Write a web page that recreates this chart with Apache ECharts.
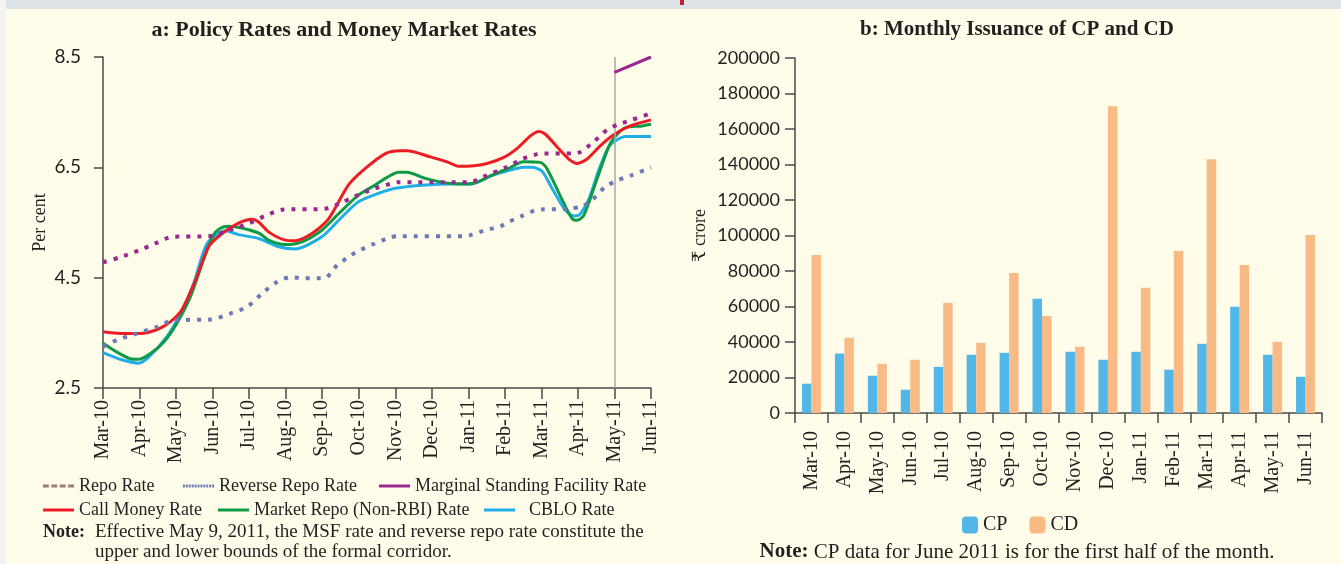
<!DOCTYPE html>
<html>
<head>
<meta charset="utf-8">
<script src="https://cdn.jsdelivr.net/npm/echarts@6/dist/echarts.min.js"></script>
<style>
  html, body { margin: 0; padding: 0; background: #fffce9; }
  #chart { width: 1341px; height: 564px; }
</style>
</head>
<body>
<div id="chart"></div>
<script>
// month labels shared by both panels
const months = ["Mar-10", "Apr-10", "May-10", "Jun-10", "Jul-10", "Aug-10", "Sep-10", "Oct-10",
  "Nov-10", "Dec-10", "Jan-11", "Feb-11", "Mar-11", "Apr-11", "May-11", "Jun-11"];

// panel a: [month index, per cent]
const repoRate = [[0, 4.78], [0.47, 4.87], [0.97, 4.99], [1.43, 5.12], [1.89, 5.24], [2.9, 5.25], [3.44, 5.36],
  [3.98, 5.48], [4.44, 5.62], [4.9, 5.73], [6.08, 5.75], [6.5, 5.85], [6.85, 5.96], [7.45, 6.12], [7.87, 6.2],
  [8.05, 6.23], [10.05, 6.23], [10.42, 6.33], [11.06, 6.51], [11.47, 6.65], [11.88, 6.74], [12.06, 6.75],
  [12.88, 6.75], [13.07, 6.78], [13.43, 6.96], [13.8, 7.18], [14.07, 7.27], [14.48, 7.36], [15, 7.48]];
const reverseRepoRate = [[0, 3.25], [0.38, 3.37], [0.84, 3.47], [1.48, 3.61], [1.93, 3.73], [2.94, 3.74],
  [3.48, 3.85], [3.94, 3.97], [4.4, 4.24], [4.76, 4.42], [5.13, 4.51], [5.49, 4.49], [5.95, 4.49], [6.13, 4.51],
  [6.4, 4.72], [6.8, 4.91], [7.04, 5.0], [7.41, 5.11], [7.86, 5.23], [8.05, 5.25], [9.87, 5.25], [10.05, 5.27],
  [10.47, 5.36], [10.88, 5.43], [11.1, 5.51], [11.47, 5.62], [11.83, 5.72], [12.06, 5.74], [12.47, 5.74],
  [12.84, 5.76], [13.11, 5.79], [13.39, 5.91], [13.75, 6.15], [14.11, 6.27], [14.48, 6.36], [15, 6.5]];
const msfRate = [[14, 8.22], [15, 8.5]];
const callMoneyRate = [[0, 3.52], [0.47, 3.49], [1.02, 3.49], [1.48, 3.56], [1.84, 3.7], [2.16, 3.92],
  [2.53, 4.45], [2.89, 5.06], [3.26, 5.3], [3.71, 5.49], [4.08, 5.56], [4.26, 5.51], [4.53, 5.33], [4.99, 5.18],
  [5.26, 5.17], [5.72, 5.3], [6.18, 5.57], [6.72, 6.18], [7.18, 6.48], [7.73, 6.75], [8.14, 6.8], [8.32, 6.8],
  [8.96, 6.69], [9.42, 6.6], [9.73, 6.52], [9.96, 6.52], [10.51, 6.57], [10.97, 6.68], [11.33, 6.84],
  [11.7, 7.07], [11.93, 7.15], [12.11, 7.1], [12.43, 6.87], [12.75, 6.65], [12.98, 6.57], [13.25, 6.65],
  [13.61, 6.89], [13.98, 7.09], [14.43, 7.25], [15, 7.36]];
const marketRepoRate = [[0, 3.31], [0.38, 3.15], [0.75, 3.03], [0.97, 3.02], [1.29, 3.12], [1.66, 3.33],
  [2.02, 3.67], [2.39, 4.15], [2.75, 4.82], [3.0, 5.25], [3.2, 5.39], [3.44, 5.43], [4.26, 5.31], [4.53, 5.18],
  [4.99, 5.1], [5.45, 5.15], [5.99, 5.36], [6.45, 5.66], [7.0, 6.0], [7.45, 6.18], [7.73, 6.3], [8.09, 6.41],
  [8.32, 6.41], [8.82, 6.3], [9.46, 6.21], [10.01, 6.2], [10.28, 6.24], [10.65, 6.36], [11.1, 6.48],
  [11.51, 6.6], [11.97, 6.59], [12.15, 6.48], [12.57, 5.91], [12.84, 5.57], [12.98, 5.54], [13.16, 5.63],
  [13.48, 6.21], [13.84, 6.87], [14.02, 7.06], [14.3, 7.22], [14.75, 7.25], [15, 7.28]];
const cbloRate = [[0, 3.14], [0.47, 3.02], [0.97, 2.95], [1.25, 3.06], [1.75, 3.43], [2.12, 3.85], [2.48, 4.39],
  [2.85, 5.12], [3.35, 5.35], [3.71, 5.28], [4.26, 5.21], [4.81, 5.06], [5.26, 5.02], [5.99, 5.24],
  [6.54, 5.6], [7.0, 5.88], [7.55, 6.03], [8.0, 6.12], [8.82, 6.18], [9.55, 6.2], [10.1, 6.2], [10.56, 6.33],
  [11.1, 6.44], [11.51, 6.5], [11.74, 6.5], [12.02, 6.43], [12.29, 6.12], [12.66, 5.72], [12.88, 5.62],
  [13.02, 5.63], [13.29, 5.91], [13.57, 6.45], [13.84, 6.87], [14.07, 7.0], [14.3, 7.06], [15, 7.06]];

// panel b: ₹ crore
const cpIssuance = [16500, 33500, 21000, 13100, 26000, 32800, 33900, 64300, 34500, 30000, 34500, 24400, 39000, 59800, 32800, 20400];
const cdIssuance = [89000, 42400, 27700, 30000, 62000, 39500, 78900, 54700, 37300, 172800, 70500, 91300, 143000, 83400, 40100, 100300];

const serif = '"Liberation Serif", "DejaVu Serif", serif';
const sans = 'Lato, "Open Sans", sans-serif';
const ink = "#231f20";
const axisCol = "#4a4a4a";

// legend icons drawn as short segments so the dashes show
const dashIcon = "path://M0,0h6v3h-6zM8.5,0h6v3h-6zM17,0h6v3h-6zM25.5,0h6v3h-6z";
const dotIcon = "path://M0,0h2v3h-2zM3,0h2v3h-2zM6,0h2v3h-2zM9,0h2v3h-2zM12,0h2v3h-2zM15,0h2v3h-2zM18,0h2v3h-2zM21,0h2v3h-2zM24,0h2v3h-2zM27,0h2v3h-2zM30,0h2v3h-2z";
const solidIcon = "path://M0,0h31v3h-31z";

function lineSeries(name, data, color, width, dash, z) {
  return {
    name: name,
    type: "line",
    xAxisIndex: 0,
    yAxisIndex: 0,
    data: data,
    symbol: "none",
    smooth: 0.25,
    z: z,
    lineStyle: { color: color, width: width, type: dash || "solid", cap: "butt" },
    itemStyle: { color: color },
  };
}

function oneLegend(name, left, top, color, icon, pad) {
  return {
    data: [{ name: name, icon: icon, itemStyle: { color: color } }],
    left: left,
    top: top,
    itemWidth: 31,
    itemHeight: 4,
    selectedMode: false,
    textStyle: { fontFamily: serif, fontSize: 18, color: ink, padding: [0, 0, 0, pad || 0] },
  };
}

const chart = echarts.init(document.getElementById("chart"));
const option = {
  animation: false,
  backgroundColor: "#fffce9",
  graphic: [
    { type: "rect", shape: { x: 0, y: 0, width: 1341, height: 9 }, style: { fill: "#dde3e7" } },
    { type: "rect", shape: { x: 0, y: 0, width: 6, height: 564 }, style: { fill: "#f4f4ef" } },
    { type: "rect", shape: { x: 680, y: 0, width: 4, height: 5 }, style: { fill: "#c0212f" } },
    { type: "text", x: 344, y: 30, style: { text: "a: Policy Rates and Money Market Rates", font: "bold 22px " + serif, fill: ink, textAlign: "center", textVerticalAlign: "middle" } },
    { type: "text", x: 1017, y: 30, style: { text: "b: Monthly Issuance of CP and CD", font: "bold 21px " + serif, fill: ink, textAlign: "center", textVerticalAlign: "middle" } },
    { type: "text", x: 43, y: 532, style: { text: "Note:", font: "bold 18px " + serif, fill: ink, textVerticalAlign: "middle" } },
    { type: "text", x: 95, y: 532, style: { text: "Effective May 9, 2011, the MSF rate and reverse repo rate constitute the", font: "19px " + serif, fill: ink, textVerticalAlign: "middle" } },
    { type: "text", x: 95, y: 552, style: { text: "upper and lower bounds of the formal corridor.", font: "19px " + serif, fill: ink, textVerticalAlign: "middle" } },
    { type: "text", x: 1017, y: 552, style: { text: "{b|Note:} CP data for June 2011 is for the first half of the month.", font: "21px " + serif, fill: ink, textAlign: "center", textVerticalAlign: "middle", rich: { b: { fontWeight: "bold", fontFamily: serif, fontSize: 21 } } } },
  ],
  legend: [
    oneLegend("Repo Rate", 38, 472, "#9e7b76", dashIcon),
    oneLegend("Reverse Repo Rate", 178, 472, "#6c7bb7", dotIcon),
    oneLegend("Marginal Standing Facility Rate", 374, 472, "#9b2790", solidIcon),
    oneLegend("Call Money Rate", 38, 496, "#ed1c24", solidIcon),
    oneLegend("Market Repo (Non-RBI) Rate", 213, 496, "#0e9a48", solidIcon),
    oneLegend("CBLO Rate", 479, 496, "#1faeea", solidIcon, 9),
    {
      data: ["CP", "CD"],
      left: 957,
      top: 510,
      itemWidth: 16,
      itemHeight: 17,
      itemGap: 22,
      selectedMode: false,
      textStyle: { fontFamily: serif, fontSize: 20, color: ink },
    },
  ],
  grid: [
    { left: 103, right: 690, top: 57, bottom: 176 },
    { left: 795, right: 19, top: 58, bottom: 151 },
  ],
  xAxis: [
    {
      type: "value",
      gridIndex: 0,
      min: 0,
      max: 15,
      interval: 1,
      axisLine: { show: true, onZero: false, lineStyle: { color: axisCol, width: 1.5 } },
      axisTick: { show: true, length: 11, lineStyle: { color: axisCol, width: 1.5 } },
      axisLabel: { rotate: 90, margin: 12, showMinLabel: true, showMaxLabel: true, fontFamily: serif, fontSize: 20, color: ink, formatter: (v) => months[v] },
      splitLine: { show: false },
    },
    {
      type: "category",
      gridIndex: 1,
      data: months,
      axisLine: { show: true, lineStyle: { color: axisCol, width: 1.5 } },
      axisTick: { show: true, length: 10, lineStyle: { color: axisCol, width: 1.5 } },
      axisLabel: { rotate: 90, margin: 18, interval: 0, fontFamily: serif, fontSize: 20, color: ink },
    },
  ],
  yAxis: [
    {
      type: "value",
      gridIndex: 0,
      min: 2.5,
      max: 8.5,
      interval: 2,
      name: "Per cent",
      nameLocation: "middle",
      nameGap: 54,
      nameTextStyle: { fontFamily: serif, fontSize: 18, color: ink },
      axisLine: { show: true, lineStyle: { color: axisCol, width: 1.5 } },
      axisTick: { show: true, length: 9, lineStyle: { color: axisCol, width: 1.5 } },
      axisLabel: { margin: 22, fontFamily: sans, fontSize: 19, color: ink, formatter: (v) => v.toFixed(1) },
      splitLine: { show: false },
    },
    {
      type: "value",
      gridIndex: 1,
      min: 0,
      max: 200000,
      interval: 20000,
      name: "₹ crore",
      nameLocation: "middle",
      nameGap: 86,
      nameTextStyle: { fontFamily: serif, fontSize: 18, color: ink },
      axisLine: { show: true, lineStyle: { color: axisCol, width: 1.5 } },
      axisTick: { show: true, length: 10, lineStyle: { color: axisCol, width: 1.5 } },
      axisLabel: { margin: 15, fontFamily: sans, fontSize: 18, color: ink, formatter: (v) => String(v) },
      splitLine: { show: false },
    },
  ],
  series: [
    lineSeries("CBLO Rate", cbloRate, "#1faeea", 3, "solid", 2),
    lineSeries("Market Repo (Non-RBI) Rate", marketRepoRate, "#0e9a48", 3, "solid", 3),
    lineSeries("Call Money Rate", callMoneyRate, "#ed1c24", 3, "solid", 4),
    lineSeries("Reverse Repo Rate", reverseRepoRate, "#6c7bb7", 4, [4, 7], 5),
    lineSeries("Repo Rate", repoRate, "#9b2790", 4, [4, 7], 5),
    Object.assign(lineSeries("Marginal Standing Facility Rate", msfRate, "#9b2790", 3, "solid", 6), {
      markLine: {
        silent: true,
        symbol: "none",
        label: { show: false },
        lineStyle: { color: "#a8a8a8", width: 1.5, type: "solid" },
        data: [{ xAxis: 14 }],
      },
    }),
    {
      name: "CP",
      type: "bar",
      xAxisIndex: 1,
      yAxisIndex: 1,
      data: cpIssuance,
      barWidth: 9.5,
      barGap: "0%",
      itemStyle: { color: "#52b6e8" },
    },
    {
      name: "CD",
      type: "bar",
      xAxisIndex: 1,
      yAxisIndex: 1,
      data: cdIssuance,
      barWidth: 9.5,
      barGap: "0%",
      itemStyle: { color: "#f9bb86" },
    },
  ],
};
chart.setOption(option);
</script>
</body>
</html>
